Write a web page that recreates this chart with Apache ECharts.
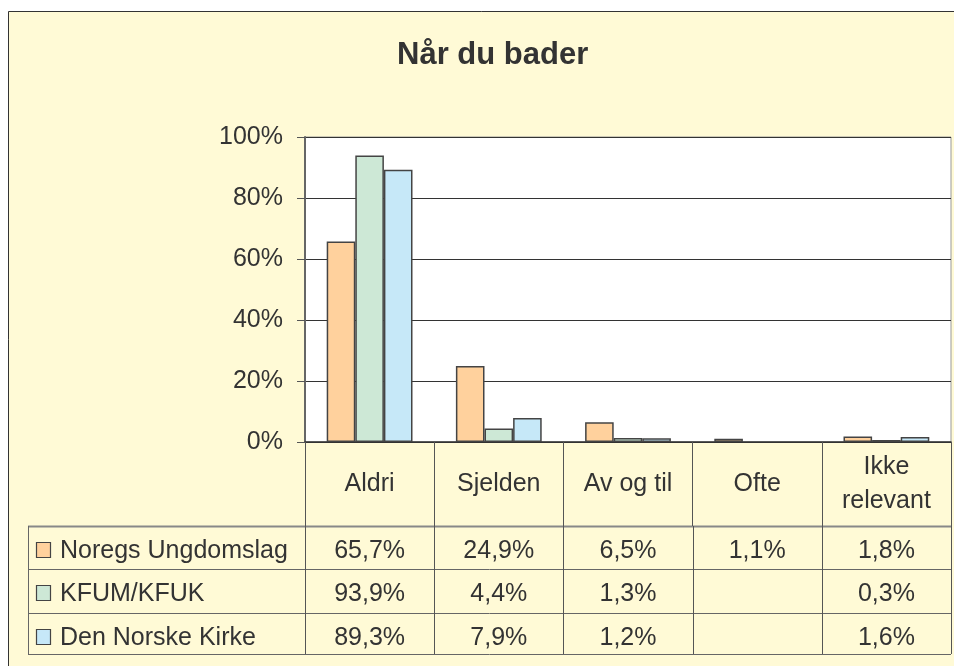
<!DOCTYPE html>
<html>
<head>
<meta charset="utf-8">
<script src="https://cdn.jsdelivr.net/npm/echarts@6/dist/echarts.min.js"></script>
<style>
html,body{margin:0;padding:0;background:#fff;}
#chart{width:954px;height:666px;}
</style>
</head>
<body>
<div id="chart"></div>
<script>
const categories = ['Aldri', 'Sjelden', 'Av og til', 'Ofte', 'Ikke\nrelevant'];
const seriesNames = ['Noregs Ungdomslag', 'KFUM/KFUK', 'Den Norske Kirke'];
const noregsUngdomslag = [65.7, 24.9, 6.5, 1.1, 1.8];
const kfumKfuk = [93.9, 4.4, 1.3, null, 0.3];
const denNorskeKirke = [89.3, 7.9, 1.2, null, 1.6];
const yTickValues = [0, 20, 40, 60, 80, 100];
const titleText = 'Når du bader';

const seriesData = [noregsUngdomslag, kfumKfuk, denNorskeKirke];
const colors = ['#FFD19D', '#CDE8D6', '#C6E8F8'];
const FONT = "'Liberation Sans', Arial, sans-serif";
const TXT = '#333';
const BG = '#FFFAD6';

const chart = echarts.init(document.getElementById('chart'), null, {renderer: 'canvas'});

const grid = {left: 305, top: 137, width: 646, height: 305};

const option = {
  animation: false,
  backgroundColor: '#fff',
  title: {
    text: titleText,
    left: 392,
    top: 35,
    textStyle: {fontFamily: FONT, fontSize: 31, fontWeight: 'bold', color: TXT}
  },
  grid: Object.assign({show: true, backgroundColor: '#fff', borderColor: '#999', borderWidth: 1}, grid),
  xAxis: {
    type: 'category',
    data: categories,
    boundaryGap: true,
    axisLine: {show: true, lineStyle: {color: '#333', width: 1.5}},
    axisTick: {show: true, interval: 0, length: 84, lineStyle: {color: '#555', width: 1}},
    axisLabel: {
      interval: 0, margin: 42, verticalAlign: 'middle', lineHeight: 34,
      fontFamily: FONT, fontSize: 25, color: TXT
    },
    splitLine: {show: false}
  },
  yAxis: {
    type: 'value',
    min: yTickValues[0],
    max: yTickValues[yTickValues.length - 1],
    interval: yTickValues[1] - yTickValues[0],
    axisLine: {show: true, lineStyle: {color: '#666', width: 2}},
    axisTick: {show: true, length: 8, lineStyle: {color: '#555', width: 1}},
    axisLabel: {margin: 22, formatter: '{value}%', fontFamily: FONT, fontSize: 25, color: TXT},
    splitLine: {show: true, lineStyle: {color: '#333', width: 1}}
  },
  series: seriesNames.map((name, i) => ({
    name: name,
    type: 'bar',
    data: seriesData[i],
    barWidth: 28.6,
    barGap: '0%',
    barMinHeight: 2,
    itemStyle: {color: colors[i], borderColor: '#444', borderWidth: 1.5}
  }))
};

chart.setOption(option);

// Build the outer frame and the data table from the data arrays
const elements = [];
elements.push({
  type: 'rect', z: -100, silent: true,
  shape: {x: 8.5, y: 11.5, width: 1000, height: 700},
  style: {fill: BG, stroke: '#333', lineWidth: 1}
});

const catW = chart.convertToPixel({xAxisIndex: 0}, 1) - chart.convertToPixel({xAxisIndex: 0}, 0);
const centers = categories.map((c, i) => chart.convertToPixel({xAxisIndex: 0}, i));
const bounds = [centers[0] - catW / 2].concat(centers.map(c => c + catW / 2));
const tableLeft = 28;
const tableRight = bounds[bounds.length - 1];
const rowLines = [526, 569, 613, 654];

rowLines.forEach((y, k) => {
  elements.push({
    type: 'line', silent: true,
    shape: {x1: tableLeft, y1: y + 0.5, x2: tableRight, y2: y + 0.5},
    style: {stroke: k === 0 ? '#888' : '#666', lineWidth: k === 0 ? 2 : 1}
  });
});
elements.push({
  type: 'line', silent: true,
  shape: {x1: tableLeft + 0.5, y1: rowLines[0], x2: tableLeft + 0.5, y2: rowLines[3]},
  style: {stroke: '#666', lineWidth: 1}
});
bounds.forEach(x => {
  elements.push({
    type: 'line', silent: true,
    shape: {x1: Math.round(x) + 0.5, y1: rowLines[0], x2: Math.round(x) + 0.5, y2: rowLines[3]},
    style: {stroke: '#555', lineWidth: 1}
  });
});

function fmt(v) {
  if (v === null || v === undefined) return '';
  return v.toFixed(1).replace('.', ',') + '%';
}

seriesNames.forEach((name, r) => {
  const ty = rowLines[r] + 25;
  elements.push({
    type: 'rect', silent: true,
    shape: {x: 36.5, y: ty - 8.5, width: 14, height: 15},
    style: {fill: colors[r], stroke: '#444', lineWidth: 1.2}
  });
  elements.push({
    type: 'text', silent: true,
    x: 60, y: ty,
    style: {text: name, fill: TXT, font: '25px ' + FONT, textAlign: 'left', textVerticalAlign: 'middle'}
  });
  seriesData[r].forEach((v, c) => {
    elements.push({
      type: 'text', silent: true,
      x: centers[c], y: ty,
      style: {text: fmt(v), fill: TXT, font: '25px ' + FONT, textAlign: 'center', textVerticalAlign: 'middle'}
    });
  });
});

chart.setOption({graphic: {elements: elements}});
</script>
</body>
</html>
